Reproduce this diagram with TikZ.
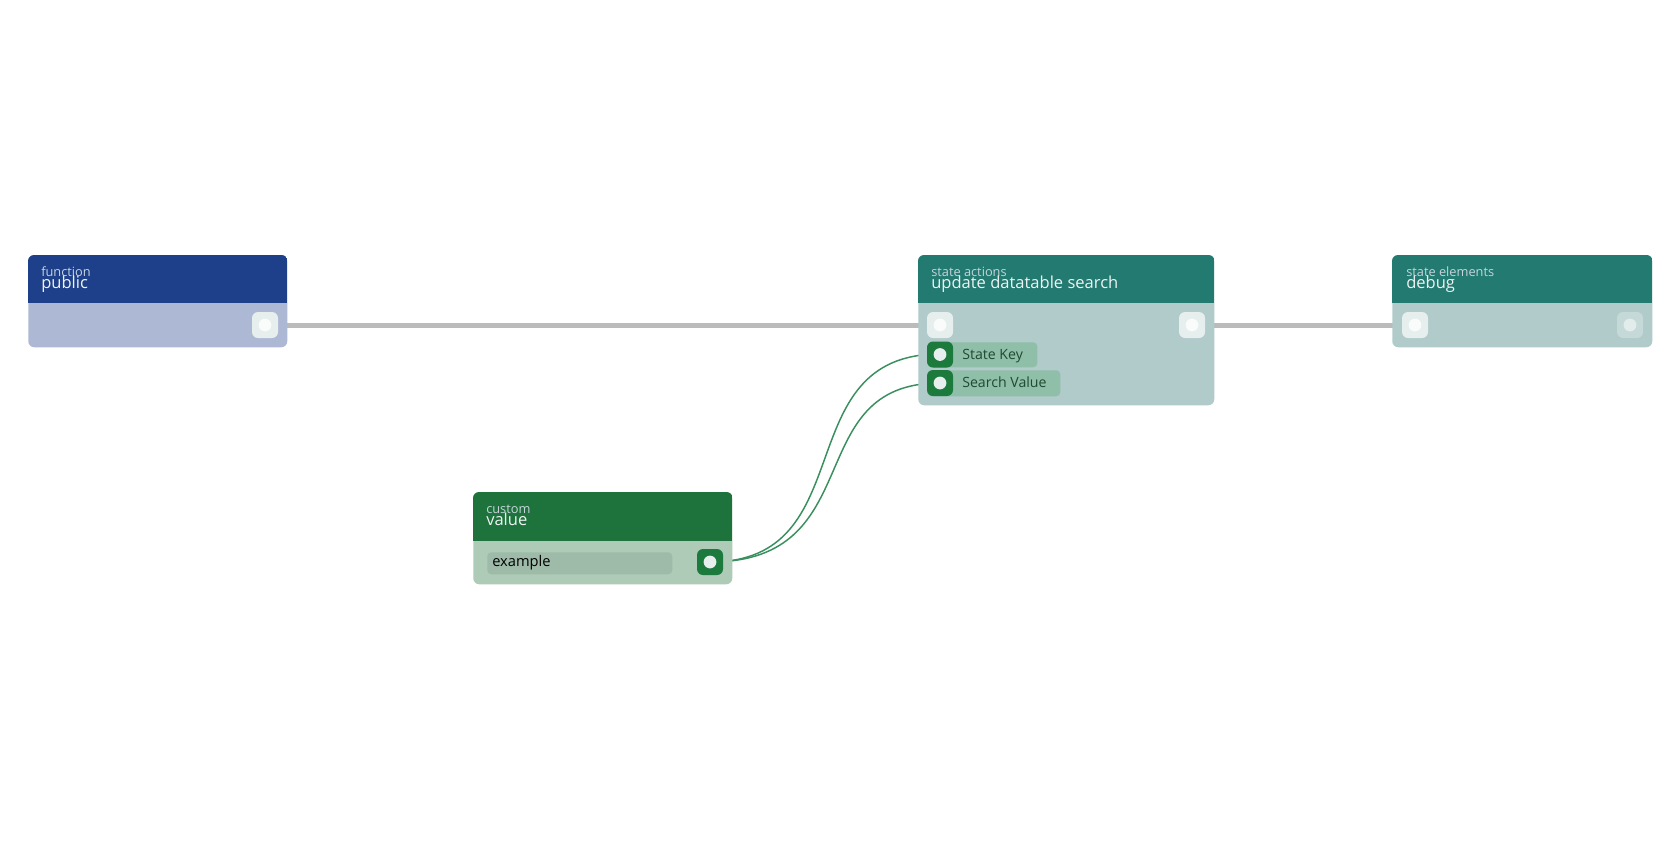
\documentclass[tikz,border=0pt]{standalone}
\usepackage{fontspec}
\setmainfont{Open Sans}
\definecolor{pubhdr}{HTML}{1E3F89}
\definecolor{pubbody}{HTML}{ADB9D4}
\definecolor{updhdr}{HTML}{227A70}
\definecolor{updbody}{HTML}{B0CBCA}
\definecolor{valhdr}{HTML}{1D733B}
\definecolor{valbody}{HTML}{ADCBB6}
\definecolor{expill}{HTML}{9DBBA8}
\definecolor{keypill}{HTML}{8FBFA8}
\definecolor{gport}{HTML}{1B7A3C}
\definecolor{wport}{HTML}{E6EEEE}
\definecolor{wdot}{HTML}{FAFCFC}
\definecolor{fport}{HTML}{C4D9D8}
\definecolor{fdot}{HTML}{E2ECEB}
\definecolor{gline}{HTML}{BBBBBB}
\definecolor{gcurve}{HTML}{3A8F5E}
\definecolor{ttl}{HTML}{EEF3F3}
\definecolor{subttl}{HTML}{C6D4DC}
\definecolor{lbl}{HTML}{1E4A30}
\tikzset{
  box/.style={anchor=north west, rounded corners=4.5pt, inner sep=0pt, draw=none},
  port/.style={minimum size=19.5pt, rounded corners=4.5pt, inner sep=0pt, draw=none},
  wp/.style={port, fill=wport},
  gp/.style={port, fill=gport},
  fp/.style={port, fill=fport},
  pill/.style={anchor=north west, rounded corners=3pt, inner sep=0pt, draw=none},
  subt/.style={anchor=base west, inner sep=0pt, text=subttl, font=\fontsize{9.6}{10}\selectfont},
  titl/.style={anchor=base west, inner sep=0pt, text=ttl, font=\fontsize{12.4}{13}\selectfont},
  lab/.style={anchor=base west, inner sep=0pt, text=lbl, font=\fontsize{10.6}{12}\selectfont},
  gwire/.style={draw=gline, line width=3.75pt},
  cwire/.style={draw=gcurve, line width=1.1pt},
}
\begin{document}
\begin{tikzpicture}[x=0.75pt,y=-0.75pt]
\useasboundingbox[fill=white] (0,0) rectangle (1680,840);

% ---------- wires (behind nodes) ----------
\coordinate (c1) at (265,325);
\coordinate (c2) at (940,325);
\coordinate (c3) at (1192,325);
\coordinate (c4) at (1415,325);
\draw[gwire] (c1) -- (c2);
\draw[gwire] (c3) -- (c4);
\coordinate (vsrc) at (710,562);
\coordinate (kdst) at (940,354);
\coordinate (sdst) at (940,383);
\draw[cwire] (vsrc) .. controls (865,562) and (785,354) .. (kdst);
\draw[cwire] (vsrc) .. controls (872,562) and (798,383) .. (sdst);

% ---------- public ----------
\node[box, fill=pubbody, minimum width=194.25pt, minimum height=69pt] (pub) at (28,255) {};
\begin{scope}
  \clip[rounded corners=4.5pt] (pub.north west) rectangle (pub.south east);
  \fill[pubhdr] (pub.north west) rectangle (287,303);
\end{scope}
\node[subt] (pubsub) at (41,276) {function};
\node[titl] (pubttl) at (41,288.5) {public};
\node[wp] (pubout) at (265,325) {};
\fill[wdot] (pubout.center) circle (4.8pt);

% ---------- update datatable search ----------
\node[box, fill=updbody, minimum width=222pt, minimum height=112.5pt] (upd) at (918,255) {};
\begin{scope}
  \clip[rounded corners=4.5pt] (upd.north west) rectangle (upd.south east);
  \fill[updhdr] (upd.north west) rectangle (1214,303);
\end{scope}
\node[subt] (updsub) at (931,276.5) {state actions};
\node[titl] (updttl) at (931,288.5) {update datatable search};
\node[wp] (updin) at (940,325) {};
\fill[wdot] (updin.center) circle (4.8pt);
\node[wp] (updout) at (1192,325) {};
\fill[wdot] (updout.center) circle (4.8pt);
\node[pill, fill=keypill, minimum width=82.5pt, minimum height=18.75pt] (keyp) at (927,342) {};
\node[gp] (keyin) at (940,354.5) {};
\fill[wport] (keyin.center) circle (4.8pt);
\node[lab] (keylab) at (962,359) {State Key};
\node[pill, fill=keypill, minimum width=99.75pt, minimum height=19.5pt] (srchp) at (927,370) {};
\node[gp] (srchin) at (940,383) {};
\fill[wport] (srchin.center) circle (4.8pt);
\node[lab] (srchlab) at (962,387.5) {Search Value};

% ---------- debug ----------
\node[box, fill=updbody, minimum width=195pt, minimum height=69pt] (dbg) at (1392,255) {};
\begin{scope}
  \clip[rounded corners=4.5pt] (dbg.north west) rectangle (dbg.south east);
  \fill[updhdr] (dbg.north west) rectangle (1652,303);
\end{scope}
\node[subt] (dbgsub) at (1406,276) {state elements};
\node[titl] (dbgttl) at (1406,288.5) {debug};
\node[wp] (dbgin) at (1415,325) {};
\fill[wdot] (dbgin.center) circle (4.8pt);
\node[fp] (dbgout) at (1630,325) {};
\fill[fdot] (dbgout.center) circle (4.8pt);

% ---------- value ----------
\node[box, fill=valbody, minimum width=194.25pt, minimum height=69pt] (val) at (473,492) {};
\begin{scope}
  \clip[rounded corners=4.5pt] (val.north west) rectangle (val.south east);
  \fill[valhdr] (val.north west) rectangle (732,541);
\end{scope}
\node[subt] (valsub) at (486,513.5) {custom};
\node[titl] (valttl) at (486,525.5) {value};
\node[pill, fill=expill, minimum width=138.75pt, minimum height=16.5pt] (exp) at (487,552) {};
\node[lab, text=black, font=\fontsize{11}{12}\selectfont] (exlab) at (492,566.5) {example};
\node[gp] (valout) at (710,562) {};
\fill[wport] (valout.center) circle (4.8pt);
\end{tikzpicture}
\end{document}
